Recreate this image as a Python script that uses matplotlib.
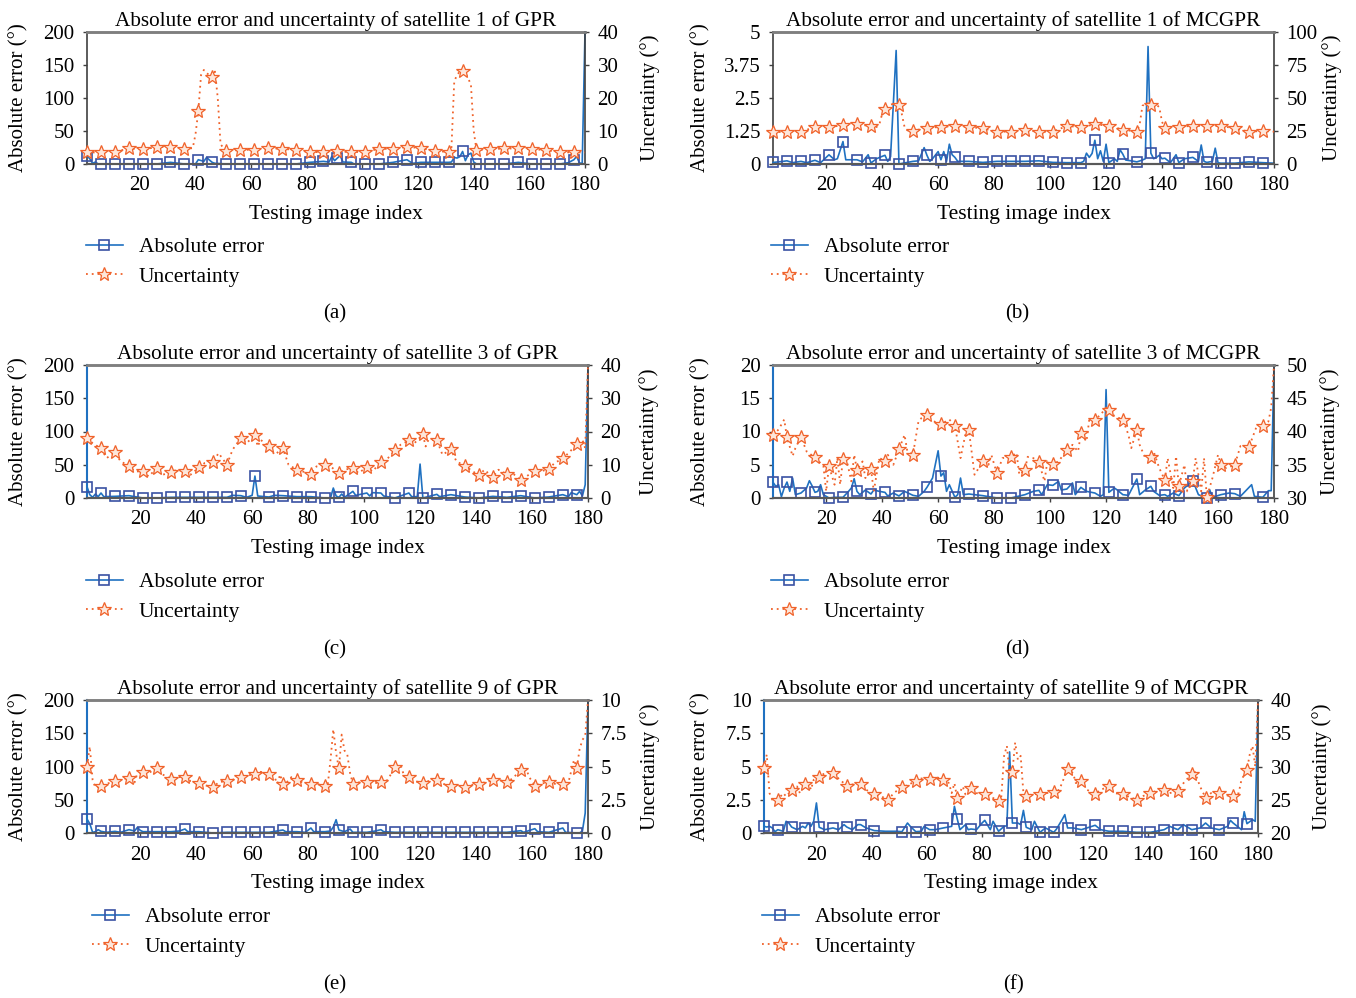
import matplotlib
matplotlib.use('Agg')
import matplotlib.pyplot as plt
from matplotlib.lines import Line2D
from matplotlib.ticker import FuncFormatter

# (index, value) pairs, markers sit on 1, 6, 11, ... 176
a_err = [(1, 12.5), (2, 8), (3, 1), (4, 3), (5, 0), (6, 0), (11, 0), (16, 0), (21, 0), (26, 0),
         (31, 2.5), (36, 0), (40, 0), (41, 6.5), (43, 4), (44, 10), (45, 6), (46, 2.5), (47, 1),
         (51, 0), (56, 0), (61, 0), (66, 0), (71, 0), (76, 0), (81, 2.5), (86, 4), (88, 3),
         (89, 11.5), (90, 5), (91, 9), (92, 12.5), (93, 3), (96, 2.5), (97, 0), (101, 0), (106, 0),
         (111, 2.5), (116, 6.5), (118, 1), (121, 2.5), (126, 2.5), (131, 2.5), (132, 3), (133, 10),
         (134, 9), (135, 11), (136, 19), (137, 5), (138, 14), (139, 16.5), (140, 3), (141, 0),
         (146, 0), (151, 0), (156, 2.5), (161, 0), (166, 0), (171, 0), (174, 2), (176, 6.5),
         (177, 11.5), (178, 1.5), (179, 1), (180, 200)]
a_unc = [(1, 3.5), (6, 3.5), (11, 3.7), (16, 4.7), (21, 4.4), (26, 5.1), (31, 5.2), (36, 4.6),
         (39, 4.8), (40, 9), (41, 16), (42, 27), (43, 28.5), (44, 27.5), (45, 27), (46, 26.3),
         (47, 28), (48, 20), (49, 6), (51, 3.8), (56, 4.3), (61, 4.3), (66, 4.8), (71, 4.6),
         (76, 4.3), (81, 3.6), (86, 3.6), (91, 3.8), (96, 3.6), (101, 3.7), (106, 4.6), (111, 4.6),
         (116, 5.2), (121, 4.8), (126, 4.0), (131, 3.6), (132, 5), (133, 25), (134, 27), (135, 28),
         (136, 28.3), (137, 27.5), (138, 26), (139, 24), (140, 10), (141, 4.2), (146, 4.5),
         (151, 4.7), (156, 4.7), (161, 4.5), (166, 4.2), (171, 3.6), (176, 3.5), (180, 3.5)]

b_err = [(1, 0.06), (3, 0.08), (6, 0.12), (8, 0.05), (11, 0.1), (13, 0.05), (16, 0.14), (18, 0.05),
         (21, 0.35), (23, 0.16), (24, 0.2), (26, 0.85), (27, 0.16), (31, 0.16), (33, 0.08),
         (35, 0.35), (36, 0.04), (38, 0.2), (40, 0.29), (41, 0.33), (42, 0.1), (43, 0.28),
         (45, 4.3), (46, 0), (51, 0.1), (53, 0.12), (55, 0.62), (56, 0.33), (57, 0.1), (58, 0.2),
         (60, 0.47), (61, 0.16), (62, 0.47), (63, 0.1), (64, 0.75), (65, 0.35), (66, 0.25),
         (67, 0.1), (71, 0.1), (76, 0.06), (81, 0.1), (86, 0.1), (91, 0.1), (96, 0.12), (101, 0.06),
         (106, 0.05), (111, 0.05), (112, 0.1), (113, 0.41), (114, 0.25), (115, 0.4), (116, 0.9),
         (117, 0.2), (118, 0.5), (119, 0.1), (120, 0.75), (121, 0.05), (123, 0.2), (124, 0.1),
         (125, 0.54), (126, 0.37), (127, 0.15), (129, 0.12), (131, 0.08), (133, 0.15), (134, 0.2),
         (135, 4.45), (136, 0.41), (137, 0.2), (138, 0.25), (139, 0.33), (140, 0.2), (141, 0.22),
         (143, 0.05), (145, 0.35), (146, 0.05), (148, 0.2), (151, 0.25), (153, 0.1), (154, 0.72),
         (155, 0.1), (156, 0.06), (158, 0.1), (159, 0.6), (160, 0.05), (161, 0.03), (166, 0.03),
         (171, 0.08), (176, 0.05), (180, 0.03)]
b_unc = [(1, 24.5), (6, 24), (11, 24.5), (16, 28), (21, 27.8), (26, 29.5), (31, 30), (36, 28.8),
         (38, 28), (39, 30), (40, 38), (41, 42), (42, 44), (43, 45), (44, 45.5), (45, 45.5),
         (46, 45), (47, 38), (48, 28), (49, 25.5), (51, 25), (56, 27.5), (61, 28), (66, 28.8),
         (71, 28), (76, 27), (81, 24.5), (86, 24.5), (91, 25.5), (96, 24.5), (101, 24.5),
         (106, 28.8), (111, 28), (116, 30), (121, 29), (126, 26), (131, 24.5), (132, 30), (133, 44),
         (134, 46), (135, 46), (136, 44.5), (137, 45), (138, 45), (139, 43), (140, 32), (141, 27),
         (146, 28), (151, 29), (156, 28.8), (161, 28.8), (166, 27), (171, 24.5), (176, 25),
         (180, 24.5)]

c_err = [(1, 17), (2, 5), (3, 1), (4, 6), (5, 2), (6, 7.5), (7, 2), (11, 2.5), (16, 3.5), (21, 0),
         (26, 0), (31, 1), (36, 1), (41, 1), (46, 1), (51, 1), (53, 4), (56, 3.5), (58, 1), (60, 4),
         (61, 33), (62, 3), (66, 1.5), (68, 4), (71, 3.5), (76, 2), (81, 2), (86, 0), (88, 0),
         (89, 15), (90, 3), (91, 1), (92, 6), (93, 1), (96, 10), (97, 4), (101, 7.5), (102, 3),
         (103, 8), (106, 7.5), (107, 3), (111, 0), (116, 7.5), (117, 2), (119, 2), (120, 51),
         (121, 0), (126, 5.5), (127, 2), (131, 5), (136, 1.5), (141, 0), (146, 2.5), (151, 1),
         (156, 3.5), (161, 0), (166, 1.5), (171, 5), (173, 2), (174, 8), (176, 5), (177, 10),
         (178, 3), (179, 20), (180, 200)]
c_unc = [(1, 17.9), (3, 16.5), (6, 14.9), (8, 12), (11, 13.8), (13, 11), (16, 9.7), (18, 8),
         (21, 8.0), (23, 6.5), (26, 9.0), (28, 7), (31, 7.7), (33, 8.5), (36, 8.0), (38, 7),
         (41, 9.2), (43, 10.5), (46, 10.8), (48, 13.5), (51, 10), (53, 14.5), (56, 18.1), (58, 16.5),
         (61, 18.9), (62, 15.5), (63, 17.5), (66, 15.6), (68, 13), (71, 14.9), (73, 10), (76, 8.5),
         (78, 8.0), (81, 7.2), (83, 9.5), (86, 10), (88, 9.5), (91, 7.5), (93, 8.5), (96, 9.0),
         (98, 7.5), (101, 9.3), (103, 8), (106, 10.8), (108, 11.5), (111, 14.3), (113, 16),
         (116, 17.3), (118, 16.5), (121, 19.1), (122, 15.5), (123, 17.5), (126, 17.4), (128, 13),
         (131, 14.6), (133, 11), (136, 9.7), (138, 8.5), (141, 6.8), (143, 8.5), (146, 6.2),
         (148, 8.5), (151, 7.2), (153, 7.5), (156, 5.3), (158, 6.5), (161, 8.2), (163, 8),
         (166, 8.7), (168, 10.5), (171, 11.9), (173, 13.5), (176, 16.1), (178, 17.5), (179, 15),
         (180, 40)]

d_err = [(1, 2.36), (2, 1.75), (3, 2.0), (4, 0.2), (5, 1.5), (6, 2.4), (7, 1.0), (8, 3.0), (9, 0.5),
         (11, 0.75), (13, 1.5), (14, 2.6), (15, 1.8), (16, 0.85), (17, 1.0), (18, 2.0), (19, 0.5),
         (21, 0), (23, 0.1), (26, 0.1), (28, 1.0), (29, 1.5), (30, 2.9), (31, 1.0), (32, 0.5),
         (34, 1.2), (36, 0.6), (37, 1.2), (39, 1.0), (41, 0.85), (42, 0.3), (44, 0.75), (46, 0.3),
         (48, 1.0), (51, 0.4), (53, 0.25), (55, 1.0), (56, 1.6), (58, 3.0), (60, 7.1), (61, 3.3),
         (62, 3.8), (63, 1.0), (64, 2.0), (66, 0.1), (67, 0.5), (68, 3.0), (69, 0.5), (71, 0.6),
         (76, 0.35), (81, 0), (86, 0), (89, 0.3), (91, 0.5), (94, 1.0), (96, 1.15), (97, 0.5),
         (99, 2.0), (101, 1.9), (103, 2.5), (104, 1.2), (106, 1.35), (108, 2.26), (109, 0.5),
         (111, 1.6), (113, 1.0), (116, 0.75), (118, 0.25), (119, 0.5), (120, 16.3), (121, 0.85),
         (123, 1.5), (124, 1.2), (126, 0.5), (128, 0.4), (131, 2.86), (132, 0.5), (134, 1.2),
         (136, 1.76), (137, 1.0), (139, 0.4), (141, 0.5), (142, 0.25), (144, 0.75), (146, 0.35),
         (148, 1.5), (151, 2.6), (153, 0.5), (156, 0), (157, 1.25), (158, 0.1), (161, 0.5),
         (164, 0.75), (166, 0.65), (168, 0.25), (172, 2.0), (173, 0.25), (176, 0.1), (178, 1.1),
         (179, 1.1), (180, 20)]
d_unc = [(1, 39.5), (3, 40.3), (5, 41.8), (6, 39.1), (8, 36.3), (9, 37.5), (11, 39.2), (13, 37),
         (16, 36.1), (19, 34.8), (20, 31), (21, 34.8), (23, 32), (24, 36), (25, 32), (26, 35.9),
         (27, 36.3), (29, 32.5), (30, 36.5), (31, 34.2), (33, 35.5), (34, 33), (36, 34.4), (37, 31),
         (39, 36), (41, 35.6), (42, 36.5), (44, 35), (46, 37.3), (48, 39.5), (49, 37), (51, 36.5),
         (53, 41.6), (54, 42), (56, 42.5), (58, 41.6), (61, 41.1), (64, 41.8), (66, 40.9), (68, 36),
         (70, 40.1), (71, 40.2), (73, 33.5), (76, 35.5), (78, 35), (79, 36.5), (81, 33.7), (83, 36),
         (86, 36.2), (88, 36.8), (89, 33.5), (91, 34.2), (92, 36.2), (94, 36), (96, 35.4),
         (98, 32.5), (99, 35.5), (101, 35.1), (103, 35.5), (106, 37.2), (108, 38), (110, 37),
         (111, 39.7), (113, 38.5), (114, 41.8), (116, 41.8), (118, 42.5), (120, 43.6), (121, 43.3),
         (123, 42.3), (126, 41.8), (128, 39.5), (129, 37.5), (131, 40.3), (132, 38), (134, 36),
         (136, 36.1), (137, 37), (139, 34.5), (141, 32.7), (142, 36), (144, 31.5), (145, 36.3),
         (146, 31.8), (148, 35), (149, 31), (151, 32.6), (152, 36), (154, 31), (155, 36),
         (156, 30.1), (158, 33), (160, 36.5), (161, 35), (163, 34.5), (166, 35), (168, 37.8),
         (171, 37.6), (174, 41), (176, 40.8), (178, 41.5), (179, 43.6), (180, 50)]

e_err = [(1, 21), (2, 14), (3, 1), (4, 2), (5, 5), (6, 2.5), (8, 1), (11, 2.5), (13, 1), (16, 5),
         (18, 3), (19, 8.5), (20, 4), (21, 2), (26, 2), (31, 2), (34, 3), (36, 6), (37, 2), (41, 2),
         (46, 0), (51, 1), (56, 1), (61, 1), (66, 1), (71, 4.5), (72, 2), (76, 2), (79, 1),
         (81, 7.5), (82, 2), (86, 2), (88, 3), (89, 9), (90, 20), (91, 4.5), (93, 2), (95, 6),
         (96, 1), (101, 1), (104, 3), (106, 5), (107, 2), (111, 1), (116, 1), (121, 1), (126, 1),
         (131, 1), (136, 1), (141, 1), (146, 1), (151, 1), (156, 3.5), (157, 1), (161, 6.5),
         (162, 2), (166, 1), (171, 7.5), (172, 1), (176, 0), (177, 0), (178, 3), (179, 30),
         (180, 200)]
e_unc = [(1, 5.0), (2, 6.5), (3, 4.0), (4, 3.4), (6, 3.57), (8, 3.7), (11, 3.9), (13, 4.0),
         (16, 4.15), (18, 3.8), (19, 4.5), (21, 4.6), (23, 4.5), (26, 4.9), (28, 4.4), (31, 4.07),
         (33, 4.2), (36, 4.2), (38, 3.9), (41, 3.77), (43, 3.6), (46, 3.44), (48, 3.8), (51, 3.94),
         (53, 4.0), (56, 4.2), (58, 4.3), (61, 4.45), (63, 4.6), (66, 4.45), (68, 4.2), (69, 3.7),
         (70, 4.4), (71, 3.7), (73, 3.9), (74, 4.2), (76, 4.0), (78, 3.8), (81, 3.72), (83, 3.7),
         (86, 3.52), (87, 3.6), (88, 5.5), (89, 7.8), (90, 6.0), (91, 4.85), (92, 7.4), (93, 6.2),
         (94, 5.9), (95, 4.5), (96, 3.72), (98, 3.8), (101, 3.82), (103, 3.7), (106, 3.84),
         (108, 3.9), (109, 4.2), (111, 4.97), (113, 5.1), (114, 4.5), (116, 4.2), (118, 3.9),
         (121, 3.77), (123, 3.9), (126, 4.0), (128, 3.7), (131, 3.57), (133, 3.6), (136, 3.47),
         (138, 3.6), (141, 3.72), (143, 3.8), (146, 3.97), (148, 4.0), (151, 3.82), (153, 4.1),
         (156, 4.72), (158, 4.77), (159, 4.2), (161, 3.57), (163, 3.7), (166, 3.82), (168, 3.7),
         (171, 3.72), (173, 3.8), (175, 5.5), (176, 4.9), (177, 6.3), (178, 7.0), (179, 7.3),
         (180, 10)]

f_err = [(1, 0.5), (2, 0.45), (3, 0.5), (4, 0.38), (5, 0.1), (6, 0.25), (8, 0.13), (9, 0.88),
         (10, 0.75), (11, 0.45), (13, 0.25), (15, 0.5), (16, 0.38), (17, 0.75), (18, 0.5), (19, 0.88),
         (20, 2.26), (21, 0.43), (23, 0.25), (26, 0.38), (28, 0.25), (30, 0.63), (31, 0.45),
         (33, 0.25), (35, 0.63), (36, 0.63), (38, 0.38), (41, 0.18), (45, 0.13), (49, 0.13),
         (51, 0.1), (53, 0.75), (54, 0.5), (56, 0.1), (58, 0.13), (59, 0.5), (61, 0.25), (63, 0.25),
         (66, 0.38), (69, 0.5), (70, 2.0), (71, 1.08), (72, 0.25), (74, 0.63), (75, 0.25), (76, 0.3),
         (78, 0.25), (80, 0.75), (81, 0.95), (83, 0.25), (84, 0.88), (86, 0.13), (88, 0.5),
         (89, 0.55), (90, 6.1), (91, 0.75), (93, 0.75), (94, 0.63), (95, 1.7), (96, 0.43),
         (98, 0.25), (99, 0.88), (101, 0.05), (103, 0.38), (106, 0.05), (107, 0.3), (109, 1.0),
         (110, 1.38), (111, 0.38), (113, 0.38), (116, 0.25), (118, 0.38), (121, 0.58), (123, 0.25),
         (126, 0.13), (131, 0.13), (136, 0.05), (141, 0.05), (146, 0.25), (148, 0.5), (151, 0.25),
         (153, 0.63), (156, 0.25), (159, 0.38), (161, 0.75), (163, 0.38), (166, 0.25), (169, 0.5),
         (170, 0.95), (171, 0.75), (174, 0.25), (175, 1.6), (176, 0.7), (178, 1.0), (179, 0.88),
         (180, 10)]
f_unc = [(1, 29.8), (2, 31.8), (3, 26), (4, 25), (6, 25.0), (8, 26), (9, 25.5), (11, 26.4), (13, 27),
         (14, 26), (16, 27.3), (17, 27.8), (18, 26.5), (19, 28), (21, 28.4), (23, 29), (26, 29.0),
         (28, 28.2), (31, 27.1), (33, 27.3), (36, 27.4), (38, 26.5), (41, 25.8), (43, 25.6),
         (46, 25.0), (48, 26), (51, 26.9), (53, 27.2), (56, 27.8), (58, 28.2), (61, 28.1),
         (63, 28.5), (66, 28.0), (68, 27.5), (69, 26), (70, 27.5), (71, 25.2), (73, 27), (74, 25.8),
         (76, 26.8), (78, 26), (81, 25.8), (83, 25.5), (86, 24.8), (87, 25.5), (88, 31.6),
         (89, 33.1), (90, 29), (91, 29.2), (92, 33.6), (93, 31), (94, 31.6), (95, 26), (96, 25.5),
         (98, 25.8), (101, 25.9), (103, 26), (106, 26.1), (108, 26.5), (111, 29.6), (113, 29.0),
         (114, 27.5), (116, 27.8), (118, 26.5), (121, 25.9), (123, 26.5), (126, 27.0), (128, 26),
         (131, 25.8), (133, 25.5), (136, 25.0), (138, 25.5), (141, 26.0), (143, 26.3), (146, 26.5),
         (148, 26), (151, 26.3), (153, 27.5), (156, 28.9), (157, 29.3), (159, 27), (161, 25.3),
         (163, 26), (166, 26.0), (168, 25.7), (171, 25.5), (173, 26), (174, 28), (176, 29.5),
         (177, 31.8), (178, 33.1), (179, 30), (180, 40)]

titles = ["Absolute error and uncertainty of satellite 1 of GPR",
          "Absolute error and uncertainty of satellite 1 of MCGPR",
          "Absolute error and uncertainty of satellite 3 of GPR",
          "Absolute error and uncertainty of satellite 3 of MCGPR",
          "Absolute error and uncertainty of satellite 9 of GPR",
          "Absolute error and uncertainty of satellite 9 of MCGPR"]
tags = ["(a)", "(b)", "(c)", "(d)", "(e)", "(f)"]
err_ticks = [[0, 50, 100, 150, 200], [0, 1.25, 2.5, 3.75, 5], [0, 50, 100, 150, 200],
             [0, 5, 10, 15, 20], [0, 50, 100, 150, 200], [0, 2.5, 5, 7.5, 10]]
unc_ticks = [[0, 10, 20, 30, 40], [0, 25, 50, 75, 100], [0, 10, 20, 30, 40],
             [30, 35, 40, 45, 50], [0, 2.5, 5, 7.5, 10], [20, 25, 30, 35, 40]]
x_ticks = [20, 40, 60, 80, 100, 120, 140, 160, 180]

BLUE = '#1f71c1'
SQ_EDGE = '#3a52a3'
ORANGE = '#f0622a'
STAR_FACE = '#fde6da'
W, H = 1356, 998

plt.rcParams['font.family'] = ['Liberation Serif', 'DejaVu Serif']
plt.rcParams['font.size'] = 15

fig = plt.figure(figsize=(W / 100, H / 100), dpi=100)

# pixel layout: axes box (left, right, top, bottom), legend top-left, tag centre, ylabel centres
boxes = [(87, 585, 32, 164), (773, 1274, 32, 164), (87, 588, 365, 498),
         (773, 1274, 365, 498), (87, 588, 700, 833), (764, 1258, 700, 833)]
leg_pos = [(86, 237), (771, 237), (86, 572), (771, 572), (92, 907), (762, 907)]
tag_pos = [(335, 314), (1017, 314), (335, 650), (1017, 650), (335, 985), (1013, 985)]
ylab_x = [(18, 650), (700, 1332), (18, 649), (700, 1330), (18, 650), (700, 1322)]

fmt = FuncFormatter(lambda v, p: f"{v:g}")
marker_x = set(range(1, 177, 5))


def marks(xs):
    return [i for i, x in enumerate(xs) if x in marker_x]


for k, (err, unc) in enumerate([(a_err, a_unc), (b_err, b_unc), (c_err, c_unc),
                                (d_err, d_unc), (e_err, e_unc), (f_err, f_unc)]):
    l, r, t, b = boxes[k]
    ax = fig.add_axes([l / W, 1 - b / H, (r - l) / W, (b - t) / H])
    ax2 = ax.twinx()

    ex = [p[0] for p in err]
    ey = [p[1] for p in err]
    ux = [p[0] for p in unc]
    uy = [p[1] for p in unc]

    ax.plot(ex, ey, color=BLUE, lw=1.2, marker='s', ms=6.5, mfc='none', mec=SQ_EDGE, mew=1.2,
            markevery=marks(ex), clip_on=False, zorder=3)
    ax2.plot(ux, uy, color=ORANGE, lw=1.3, ls=(0, (1, 2.2)), marker='*', ms=10.5, mfc=STAR_FACE,
             mec=ORANGE, mew=0.9, markevery=marks(ux), clip_on=False, zorder=3)

    ax.set_xlim(1, 180)
    ax.set_ylim(err_ticks[k][0], err_ticks[k][-1])
    ax2.set_ylim(unc_ticks[k][0], unc_ticks[k][-1])
    ax.set_xticks(x_ticks)
    ax.set_yticks(err_ticks[k])
    ax2.set_yticks(unc_ticks[k])
    ax.yaxis.set_major_formatter(fmt)
    ax2.yaxis.set_major_formatter(fmt)

    for a in (ax, ax2):
        a.tick_params(direction='out', length=3, width=1, color='#404040', pad=6)
        for s in a.spines.values():
            s.set_color('#404040')
            s.set_linewidth(1.2)
        a.spines['top'].set_color('#7f7f7f')
        a.spines['top'].set_linewidth(1.8)
        a.spines['bottom'].set_color('#595959')
        a.spines['bottom'].set_linewidth(1.5)
    ax2.spines['left'].set_visible(False)
    ax.spines['right'].set_visible(False)
    if k >= 2:
        ax.spines['left'].set_color(BLUE)
        ax.spines['left'].set_linewidth(1.5)

    ax.set_title(titles[k], pad=4, fontsize=15.3)
    ax.set_xlabel("Testing image index", labelpad=7, fontsize=15.5)
    ax.set_ylabel("Absolute error (°)")
    ax2.set_ylabel("Uncertainty (°)")
    lx, rx = ylab_x[k]
    ax.yaxis.set_label_coords((lx + 10 - l) / (r - l), 0.5)
    ax2.yaxis.set_label_coords((rx - 10 - l) / (r - l), 0.5)

    handles = [Line2D([], [], color=BLUE, lw=1.2, marker='s', ms=6.5, mfc='none', mec=SQ_EDGE, mew=1.2),
               Line2D([], [], color=ORANGE, lw=1.3, ls=(0, (1, 2.2)), marker='*', ms=10.5,
                      mfc=STAR_FACE, mec=ORANGE, mew=0.9)]
    lpx, lpy = leg_pos[k]
    fig.legend(handles, ["Absolute error", "Uncertainty"], loc='upper left',
               bbox_to_anchor=(lpx / W, 1 - lpy / H), frameon=False, borderpad=0,
               borderaxespad=0, handlelength=1.7, handletextpad=0.75, labelspacing=0.45,
               fontsize=15.5)

    tx, ty = tag_pos[k]
    fig.text(tx / W, 1 - ty / H, tags[k], ha='center', va='center')

fig.savefig('out.png', dpi=100)
